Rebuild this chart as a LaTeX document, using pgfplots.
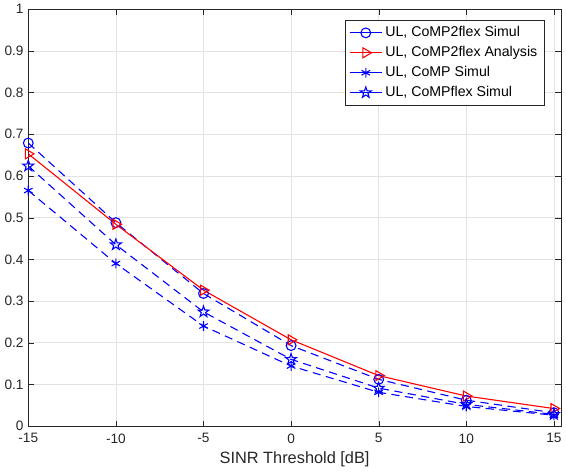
\documentclass[border=0pt]{standalone}
\usepackage{fontspec}
\setmainfont{Liberation Sans}
\usepackage{pgfplots}
\pgfplotsset{compat=1.18}
\definecolor{mblue}{RGB}{0,0,255}
\definecolor{mred}{RGB}{255,0,0}
\definecolor{axgray}{RGB}{38,38,38}

\pgfdeclareplotmark{pentagram}{%
  \pgfpathmoveto{\pgfpointpolar{90}{\pgfplotmarksize}}%
  \pgfpathlineto{\pgfpointpolar{126}{0.4\pgfplotmarksize}}%
  \pgfpathlineto{\pgfpointpolar{162}{\pgfplotmarksize}}%
  \pgfpathlineto{\pgfpointpolar{198}{0.4\pgfplotmarksize}}%
  \pgfpathlineto{\pgfpointpolar{234}{\pgfplotmarksize}}%
  \pgfpathlineto{\pgfpointpolar{270}{0.4\pgfplotmarksize}}%
  \pgfpathlineto{\pgfpointpolar{306}{\pgfplotmarksize}}%
  \pgfpathlineto{\pgfpointpolar{342}{0.4\pgfplotmarksize}}%
  \pgfpathlineto{\pgfpointpolar{18}{\pgfplotmarksize}}%
  \pgfpathlineto{\pgfpointpolar{54}{0.4\pgfplotmarksize}}%
  \pgfpathclose
  \pgfusepathqstroke
}

\begin{document}
\begin{tikzpicture}
\begin{axis}[
    scale only axis,
    width=391pt, height=306pt,
    xmin=-15, xmax=15.4,
    ymin=0, ymax=1,
    xtick={-15,-10,...,15},
    ytick={0,0.1,...,1},
    yticklabels={0,0.1,0.2,0.3,0.4,0.5,0.6,0.7,0.8,0.9,1},
    /pgf/number format/assume math mode=true,
    tick label style={font=\fontsize{10}{12}\selectfont, color=axgray},
    xticklabel style={yshift=-2pt},
    xlabel={SINR Threshold [dB]},
    xlabel style={font=\fontsize{12}{14}\selectfont, color=axgray, yshift=1pt},
    grid=major,
    grid style={gray!22, line width=0.4pt},
    axis line style={axgray, line width=0.5pt},
    tick style={axgray},
    tick align=inside,
    major tick length=4pt,
    every axis plot/.append style={line width=0.8pt},
    legend style={at={(0.969,0.975)}, anchor=north east,
        font=\fontsize{10.4}{12}\selectfont, draw=axgray,
        row sep=1.6pt, inner sep=3pt, cells={anchor=west}},
    legend cell align=left,
    legend image code/.code={%
        \draw[solid, mark repeat=2, mark phase=2] plot coordinates {(0cm,0cm) (0.42cm,0cm) (0.84cm,0cm)};},
]
\addplot[mblue, dashed, dash pattern=on 6pt off 4pt, mark=o, mark size=3.6pt, mark options={solid}]
    coordinates {(-15,0.679) (-10,0.488) (-5,0.318) (0,0.193) (5,0.112) (10,0.062) (15,0.032)};
\addlegendentry{UL, CoMP2flex Simul}
\addplot[mred, solid, mark=triangle, mark size=4.2pt, mark options={solid, rotate=-90}]
    coordinates {(-15,0.653) (-10,0.484) (-5,0.326) (0,0.207) (5,0.121) (10,0.072) (15,0.042)};
\addlegendentry{UL, CoMP2flex Analysis}
\addplot[mblue, dashed, dash pattern=on 6pt off 4pt, mark=asterisk, mark size=3.6pt, mark options={solid}]
    coordinates {(-15,0.565) (-10,0.390) (-5,0.240) (0,0.144) (5,0.081) (10,0.047) (15,0.026)};
\addlegendentry{UL, CoMP Simul}
\addplot[mblue, dashed, dash pattern=on 6pt off 4pt, mark=pentagram, mark size=4.2pt, mark options={solid}]
    coordinates {(-15,0.624) (-10,0.435) (-5,0.274) (0,0.160) (5,0.091) (10,0.052) (15,0.028)};
\addlegendentry{UL, CoMPflex Simul}
\end{axis}
\end{tikzpicture}
\end{document}
